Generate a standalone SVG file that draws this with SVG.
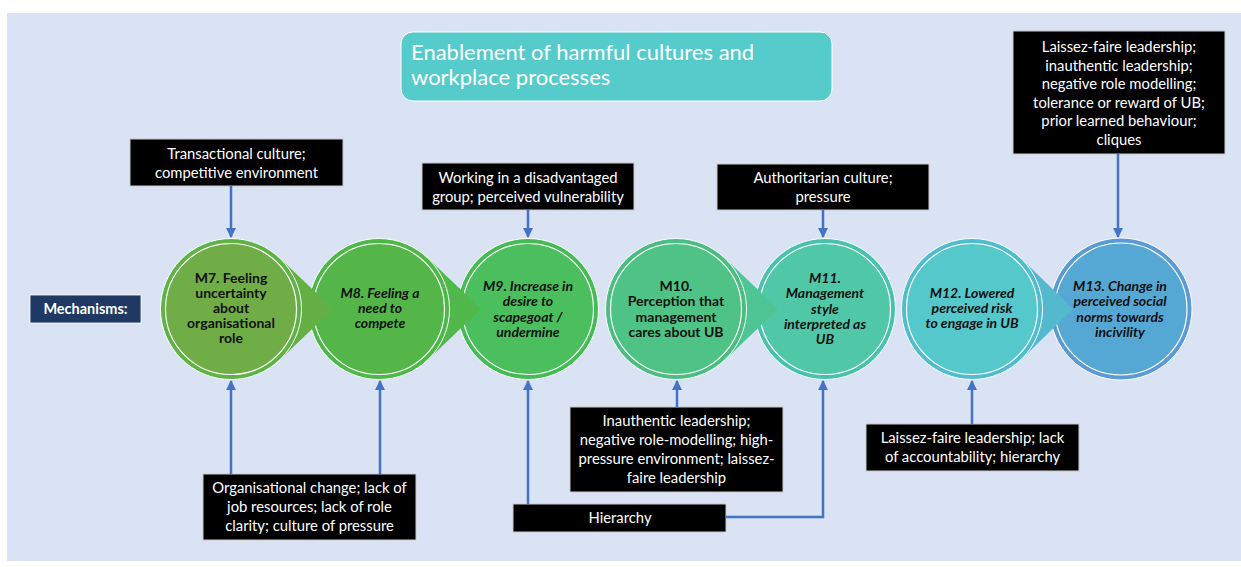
<svg xmlns="http://www.w3.org/2000/svg" width="1241" height="567" viewBox="0 0 1241 567">
<defs>
<marker id="ah" viewBox="0 0 10 10" refX="9" refY="5" markerWidth="4.2" markerHeight="4.2" orient="auto" markerUnits="strokeWidth">
<path d="M0,0 L10,5 L0,10 z" fill="#4472c4"/>
</marker>
</defs>
<style>
.bx{fill:#000;stroke:#c8c8c8;stroke-width:1}
.bt{font-family:Lato,"Liberation Sans",sans-serif;font-size:14.8px;fill:#fff;text-anchor:middle}
.ct{font-family:Lato,"Liberation Sans",sans-serif;font-size:14px;font-weight:bold;fill:#111;text-anchor:middle}
.it{font-style:italic}
.ring{stroke:#fff;stroke-width:1}
.inner{stroke:#fff;stroke-width:1.2}
.cn{fill:none;stroke:#4472c4;stroke-width:2.5;marker-end:url(#ah)}
</style>
<rect x="7" y="13" width="1234" height="548" fill="#dae3f3"/>

<g id="title">
<rect x="401" y="32" width="431" height="69" rx="12" fill="#56cbcb" stroke="#fff" stroke-width="1"/>
<text x="411" y="60" font-family="Lato,'Liberation Sans',sans-serif" font-size="22" fill="#fff">Enablement of harmful cultures and</text>
<text x="411" y="85" font-family="Lato,'Liberation Sans',sans-serif" font-size="22" fill="#fff">workplace processes</text>
</g>

<g id="mechanisms">
<rect x="30" y="295" width="111" height="28" fill="#1f3864" stroke="#fff" stroke-width="0.8"/>
<text x="85.5" y="314" font-family="Lato,'Liberation Sans',sans-serif" font-size="14.5" font-weight="bold" fill="#fff" text-anchor="middle">Mechanisms:</text>
</g>

<g id="M13">
<circle cx="1121" cy="309" r="71" fill="#5b9bd5" class="ring"/>
<circle cx="1121" cy="309" r="66" fill="#56a8d4" class="inner"/>
<text class="ct it"><tspan x="1120" y="291">M13. Change in</tspan><tspan x="1120" y="306">perceived social</tspan><tspan x="1120" y="322">norms towards</tspan><tspan x="1120" y="337">incivility</tspan></text>
</g>
<g id="M12">
<polygon points="1020.7,258 1073,309 1020.7,360" fill="#55b9cd"/>
<circle cx="972" cy="309" r="70.5" fill="#4fbccf" class="ring"/>
<circle cx="972" cy="309" r="65.5" fill="#55c8cc" class="inner"/>
<text class="ct it"><tspan x="972" y="298">M12. Lowered</tspan><tspan x="972" y="313">perceived risk</tspan><tspan x="972" y="328">to engage in UB</tspan></text>
</g>
<g id="M11">
<circle cx="825" cy="309" r="70.5" fill="#46c2ad" class="ring"/>
<circle cx="825" cy="309" r="65.5" fill="#50c8a8" class="inner"/>
<text class="ct it"><tspan x="825" y="283">M11.</tspan><tspan x="825" y="298">Management</tspan><tspan x="825" y="314">style</tspan><tspan x="825" y="329">interpreted as</tspan><tspan x="825" y="344">UB</tspan></text>
</g>
<g id="M10">
<polygon points="724.7,258 778,309 724.7,360" fill="#4fc596"/>
<circle cx="676" cy="309" r="70.5" fill="#4abd80" class="ring"/>
<circle cx="676" cy="309" r="65.5" fill="#4fc386" class="inner"/>
<text class="ct"><tspan x="676" y="291">M10.</tspan><tspan x="676" y="306">Perception that</tspan><tspan x="676" y="322">management</tspan><tspan x="676" y="337">cares about UB</tspan></text>
</g>
<g id="M9">
<circle cx="528" cy="309" r="70.5" fill="#45bb55" class="ring"/>
<circle cx="528" cy="309" r="65.5" fill="#4bbf5d" class="inner"/>
<text class="ct it"><tspan x="528" y="291">M9. Increase in</tspan><tspan x="528" y="306">desire to</tspan><tspan x="528" y="322">scapegoat /</tspan><tspan x="528" y="337">undermine</tspan></text>
</g>
<g id="M8">
<polygon points="427.7,258 481,309 427.7,360" fill="#51b94c"/>
<circle cx="379" cy="309" r="70.5" fill="#4cb848" class="ring"/>
<circle cx="379" cy="309" r="65.5" fill="#54b649" class="inner"/>
<text class="ct it"><tspan x="380" y="298">M8. Feeling a</tspan><tspan x="380" y="313">need to</tspan><tspan x="380" y="328">compete</tspan></text>
</g>
<g id="M7">
<polygon points="279.7,258 333,309 279.7,360" fill="#64b045"/>
<circle cx="231" cy="309" r="70.5" fill="#5fb346" class="ring"/>
<circle cx="231" cy="309" r="65.5" fill="#70ad47" class="inner"/>
<text class="ct"><tspan x="231" y="283">M7. Feeling</tspan><tspan x="231" y="298">uncertainty</tspan><tspan x="231" y="313">about</tspan><tspan x="231" y="328">organisational</tspan><tspan x="231" y="343">role</tspan></text>
</g>

<g id="b-transactional">
<rect class="bx" x="130" y="139" width="213" height="47"/>
<text class="bt"><tspan x="236.5" y="159">Transactional culture;</tspan><tspan x="236.5" y="178">competitive environment</tspan></text>
</g>
<g id="b-disadvantaged">
<rect class="bx" x="422" y="163" width="212" height="47"/>
<text class="bt"><tspan x="528" y="183">Working in a disadvantaged</tspan><tspan x="528" y="202">group; perceived vulnerability</tspan></text>
</g>
<g id="b-authoritarian">
<rect class="bx" x="717" y="164" width="212" height="46"/>
<text class="bt"><tspan x="823" y="183">Authoritarian culture;</tspan><tspan x="823" y="202">pressure</tspan></text>
</g>
<g id="b-laissez-top">
<rect class="bx" x="1013" y="31" width="212" height="123"/>
<text class="bt"><tspan x="1119" y="52">Laissez-faire leadership;</tspan><tspan x="1119" y="70.5">inauthentic leadership;</tspan><tspan x="1119" y="89">negative role modelling;</tspan><tspan x="1119" y="107.5">tolerance or reward of UB;</tspan><tspan x="1119" y="126">prior learned behaviour;</tspan><tspan x="1119" y="145">cliques</tspan></text>
</g>
<g id="b-organisational">
<rect class="bx" x="203" y="474" width="213" height="66"/>
<text class="bt"><tspan x="309.5" y="493">Organisational change; lack of</tspan><tspan x="309.5" y="512">job resources; lack of role</tspan><tspan x="309.5" y="531">clarity; culture of pressure</tspan></text>
</g>
<g id="b-inauthentic">
<rect class="bx" x="570" y="407" width="213" height="85"/>
<text class="bt"><tspan x="676.5" y="426">Inauthentic leadership;</tspan><tspan x="676.5" y="445">negative role-modelling; high-</tspan><tspan x="676.5" y="464">pressure environment; laissez-</tspan><tspan x="676.5" y="483">faire leadership</tspan></text>
</g>
<g id="b-hierarchy">
<rect class="bx" x="513" y="504" width="213" height="28"/>
<text class="bt" x="620" y="523">Hierarchy</text>
</g>
<g id="b-laissez-bottom">
<rect class="bx" x="866" y="424" width="213" height="47"/>
<text class="bt"><tspan x="972.5" y="443">Laissez-faire leadership; lack</tspan><tspan x="972.5" y="462">of accountability; hierarchy</tspan></text>
</g>

<g id="connectors">
<path class="cn" d="M231,186 V237"/>
<path class="cn" d="M528,210 V237"/>
<path class="cn" d="M823,210 V237"/>
<path class="cn" d="M1118,154 V237"/>
<path class="cn" d="M231,474 V381"/>
<path class="cn" d="M380,474 V381"/>
<path class="cn" d="M528,504 V381"/>
<path class="cn" d="M677,407 V381"/>
<path class="cn" d="M726,517 H823 V381"/>
<path class="cn" d="M972,424 V381"/>
</g>
</svg>
